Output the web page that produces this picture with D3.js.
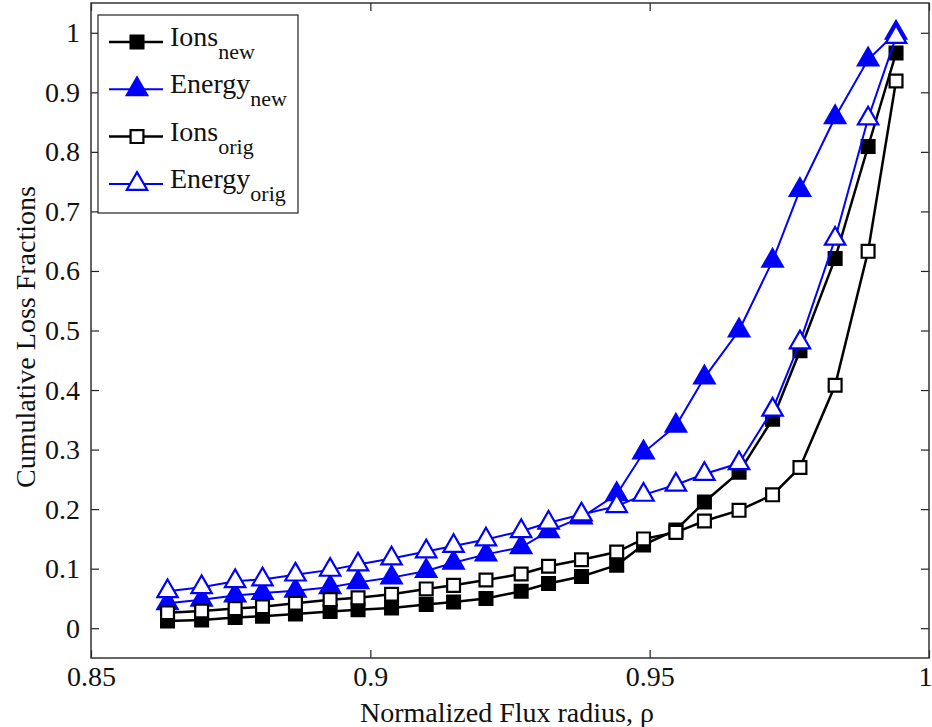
<!DOCTYPE html>
<html>
<head>
<meta charset="utf-8">
<script src="https://cdn.jsdelivr.net/npm/d3@7"></script>
<style>
  body { margin: 0; background: #fff; }
  text { font-family: "Liberation Serif", "Times New Roman", serif; fill: #111; }
</style>
</head>
<body>
<div id="Div_chart"></div>
<script>
// 数据 (读自图片)
var rho = [0.8637, 0.8698, 0.8758, 0.8807, 0.8866, 0.8928, 0.8978, 0.9038, 0.9100, 0.9149, 0.9207, 0.9270,
    0.9319, 0.9378, 0.9441, 0.9489, 0.9547, 0.9598, 0.9660, 0.9720, 0.9769, 0.9832, 0.9891, 0.9941];
var ions_new = [0.012, 0.014, 0.018, 0.020, 0.024, 0.028, 0.031, 0.034, 0.040, 0.044, 0.050, 0.062,
    0.075, 0.087, 0.106, 0.140, 0.165, 0.212, 0.262, 0.351, 0.466, 0.621, 0.809, 0.966];
var energy_new = [0.042, 0.048, 0.055, 0.059, 0.063, 0.069, 0.077, 0.085, 0.096, 0.110, 0.124, 0.136,
    0.163, 0.186, 0.225, 0.295, 0.340, 0.421, 0.500, 0.617, 0.736, 0.858, 0.955, 1.0];
var ions_orig = [0.026, 0.029, 0.033, 0.036, 0.042, 0.048, 0.051, 0.057, 0.066, 0.072, 0.081, 0.091,
    0.104, 0.115, 0.128, 0.150, 0.161, 0.180, 0.198, 0.224, 0.270, 0.408, 0.633, 0.919];
var energy_orig = [0.062, 0.069, 0.079, 0.082, 0.090, 0.098, 0.107, 0.117, 0.129, 0.138, 0.149, 0.163,
    0.177, 0.191, 0.205, 0.224, 0.241, 0.259, 0.277, 0.367, 0.480, 0.654, 0.856, 0.993];

var x_ticks = [0.85, 0.9, 0.95, 1];
var y_ticks = [0, 0.1, 0.2, 0.3, 0.4, 0.5, 0.6, 0.7, 0.8, 0.9, 1];

// 图例顺序 = 绘制顺序
var series = [
    { name: "Ions", sub: "new", values: ions_new, color: "#000", marker: "square", filled: true },
    { name: "Energy", sub: "new", values: energy_new, color: "#0000ff", marker: "triangle", filled: true },
    { name: "Ions", sub: "orig", values: ions_orig, color: "#000", marker: "square", filled: false },
    { name: "Energy", sub: "orig", values: energy_orig, color: "#0000ff", marker: "triangle", filled: false }
];

//**********************Canvas**********************
var width = 932, height = 727;
var margin = { top: 3, right: 3, bottom: 69, left: 91 };

var svg = d3.select("#Div_chart")
    .append("svg")
    .attr("width", width)
    .attr("height", height);

var x = d3.scaleLinear().domain([0.85, 1]).range([margin.left, width - margin.right]);
var y = d3.scaleLinear().domain([-0.05, 1.05]).range([height - margin.bottom, margin.top]);

//**********************Axes**********************
// 刻度朝内，上下左右都有 (MATLAB box on)
var tickLen = 8;
var axes = svg.append("g").attr("class", "axes");

var xAxisBottom = axes.append("g")
    .attr("transform", "translate(0," + y(-0.05) + ")")
    .call(d3.axisBottom(x).tickValues(x_ticks).tickSize(-tickLen).tickPadding(8)
        .tickFormat(d => d3.format("")(d)))
axes.append("g")
    .attr("transform", "translate(0," + y(1.05) + ")")
    .call(d3.axisTop(x).tickValues(x_ticks).tickSize(-tickLen).tickFormat(""))
axes.append("g")
    .attr("transform", "translate(" + x(0.85) + ",0)")
    .call(d3.axisLeft(y).tickValues(y_ticks).tickSize(-tickLen).tickPadding(11)
        .tickFormat(d => d3.format("")(d)))
axes.append("g")
    .attr("transform", "translate(" + x(1) + ",0)")
    .call(d3.axisRight(y).tickValues(y_ticks).tickSize(-tickLen).tickFormat(""))

axes.selectAll("g").attr("font-family", "Liberation Serif").attr("font-size", 28)
axes.selectAll(".domain").remove()
axes.selectAll(".tick line").attr("stroke", "#222").attr("stroke-width", 1.2)
axes.selectAll(".tick text").style("font-size", "28px")

// 最右边的 "1" 贴着画布边缘
xAxisBottom.selectAll(".tick text")
    .filter(d => d == 1)
    .attr("text-anchor", "end")
    .attr("x", 3)

svg.append("rect")
    .attr("x", x(0.85))
    .attr("y", y(1.05))
    .attr("width", x(1) - x(0.85))
    .attr("height", y(-0.05) - y(1.05))
    .attr("fill", "none")
    .attr("stroke", "#333")
    .attr("stroke-width", 1.5)

// 坐标轴标题
svg.append("text")
    .attr("x", 507)
    .attr("y", 722)
    .attr("text-anchor", "middle")
    .style("font-size", "28px")
    .text("Normalized Flux radius, ρ")

svg.append("text")
    .attr("transform", "translate(35," + 337 + ") rotate(-90)")
    .attr("text-anchor", "middle")
    .style("font-size", "28px")
    .text("Cumulative Loss Fractions")

//**********************Lines**********************
var line = d3.line()
    .x((d, i) => x(rho[i]))
    .y(d => y(d));

var squareSym = d3.symbol().type(d3.symbolSquare).size(165);
var triSym = d3.symbol().type(d3.symbolTriangle).size(180);

function drawMarker(g, s, px, py) {
    g.append("path")
        .attr("d", s.marker == "square" ? squareSym() : triSym())
        .attr("transform", "translate(" + px + "," + py + ")")
        .attr("fill", s.filled ? s.color : "#fff")
        .attr("stroke", s.color)
        .attr("stroke-width", 2.2)
}

series.forEach(function (s) {
    var g = svg.append("g").attr("class", "series");
    g.append("path")
        .datum(s.values)
        .attr("d", line)
        .attr("fill", "none")
        .attr("stroke", s.color)
        .attr("stroke-width", s.color == "#000" ? 2.5 : 2)
    s.values.forEach(function (v, i) {
        drawMarker(g, s, x(rho[i]), y(v))
    })
})

//**********************Legend**********************
var legend = svg.append("g").attr("class", "legend");
legend.append("rect")
    .attr("x", 98).attr("y", 15)
    .attr("width", 200).attr("height", 198)
    .attr("fill", "#fff")
    .attr("stroke", "#222")
    .attr("stroke-width", 1.2)

series.forEach(function (s, i) {
    var ly = 42 + i * 47.3;
    var g = legend.append("g");
    g.append("line")
        .attr("x1", 109).attr("x2", 163)
        .attr("y1", ly).attr("y2", ly)
        .attr("stroke", s.color)
        .attr("stroke-width", s.color == "#000" ? 2.5 : 2)
    drawMarker(g, s, 137, ly)
    var t = g.append("text")
        .attr("x", 170)
        .attr("y", ly + 4)
        .style("font-size", "28px")
    t.append("tspan").text(s.name)
    t.append("tspan").attr("dy", 13).style("font-size", "22px").text(s.sub)
})
</script>
</body>
</html>
